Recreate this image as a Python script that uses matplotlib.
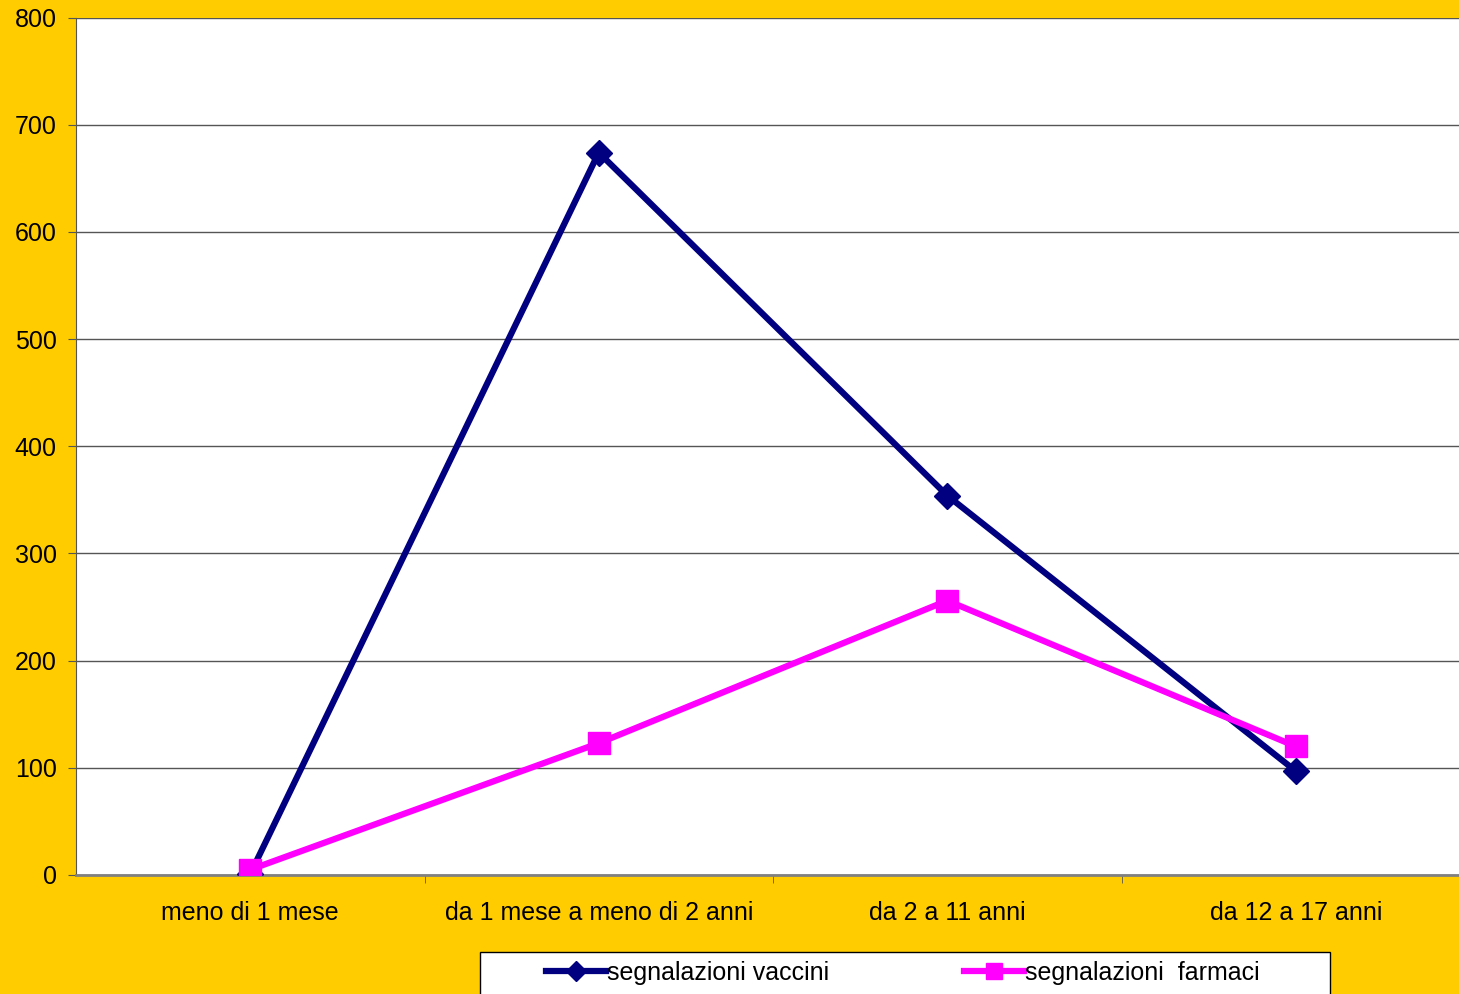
import matplotlib.pyplot as plt
from matplotlib.ticker import MultipleLocator
from matplotlib.patches import Rectangle

# fasce d'età e numero di segnalazioni
categorie = ['meno di 1 mese', 'da 1 mese a meno di 2 anni', 'da 2 a 11 anni', 'da 12 a 17 anni']
vaccini = [1, 674, 354, 97]
farmaci = [5, 123, 256, 120]

plt.rcParams['font.family'] = ['Liberation Sans', 'DejaVu Sans']

W, H = 1459, 994
fig = plt.figure(figsize=(W / 100, H / 100), dpi=100, facecolor='#FFCC00')
ax = fig.add_axes([76 / W, 1 - 875 / H, 1394 / W, (875 - 17.5) / H])
ax.set_facecolor('white')

x = range(len(categorie))
l1, = ax.plot(x, vaccini, color='#000080', lw=4.5, marker='D', ms=13,
              label='segnalazioni vaccini', zorder=3)
l2, = ax.plot(x, farmaci, color='#FF00FF', lw=4.5, marker='s', ms=16,
              label='segnalazioni  farmaci', zorder=4)

ax.set_xlim(-0.5, 3.5)
ax.set_ylim(0, 800)
ax.yaxis.set_major_locator(MultipleLocator(100))
ax.grid(axis='y', color='#555555', lw=1)
ax.set_axisbelow(True)

ax.set_xticks(list(x))
ax.set_xticklabels(categorie, fontsize=18)
ax.set_xticks([0.5, 1.5, 2.5, 3.5], minor=True)
ax.tick_params(axis='x', which='major', length=0, pad=19)
ax.tick_params(axis='x', which='minor', length=6, color='#555555')
ax.tick_params(axis='y', labelsize=18, length=6, color='#555555', pad=8)

for side in ('top', 'right'):
    ax.spines[side].set_visible(False)
ax.spines['left'].set_color('#555555')
ax.spines['bottom'].set_color('#808080')
ax.spines['bottom'].set_linewidth(2)

# riquadro della legenda in basso
fig.patches.append(Rectangle((480 / W, -0.05), 850 / W, 0.05 + 1 - 952 / H,
                             transform=fig.transFigure, facecolor='white',
                             edgecolor='black', lw=1, zorder=5))
y_leg = 1 - 973 / H
for handle, x0 in ((l1, 546), (l2, 964)):
    leg = fig.legend(handles=[handle], loc='center left', bbox_to_anchor=(x0 / W, y_leg),
                     fontsize=18, frameon=False, borderpad=0, borderaxespad=0,
                     handlelength=2.4, handletextpad=0.05, markerscale=0.75)
    leg.set_zorder(6)

fig.savefig('out.png', dpi=100, facecolor=fig.get_facecolor())
